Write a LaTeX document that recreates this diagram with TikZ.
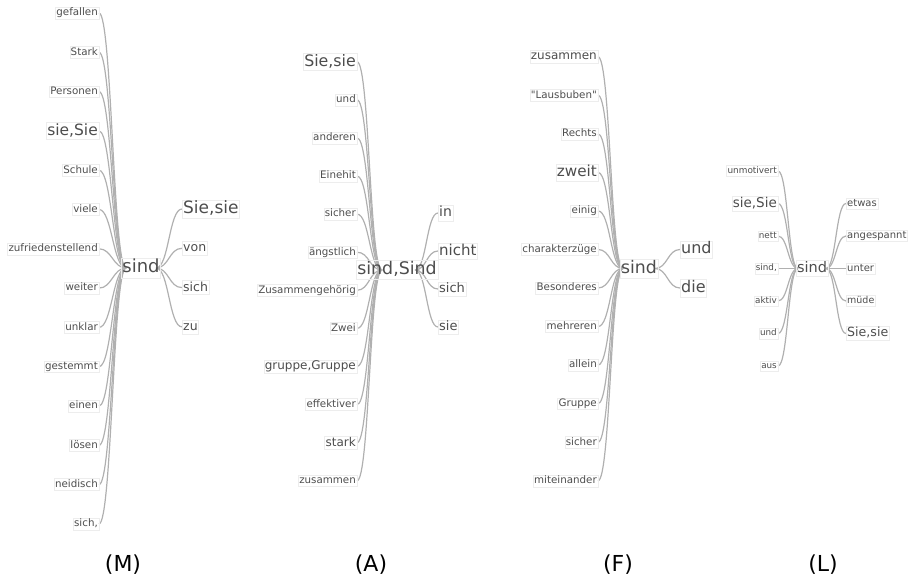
\documentclass[tikz,border=0pt]{standalone}
\usepackage{fontspec}
\setmainfont{DejaVu Sans}
\usetikzlibrary{backgrounds}
\definecolor{wordgray}{HTML}{4D4D4D}
\definecolor{linkgray}{HTML}{B0B0B0}
\definecolor{boxgray}{HTML}{EDEDED}
\newcommand{\fsz}[1]{\fontsize{#1}{#1}\selectfont}
\tikzset{
  word/.style={text=wordgray, draw=boxgray, line width=0.4pt, inner sep=1pt,
    execute at begin node=\vphantom{Ag}},
  lword/.style={word, anchor=east},
  rword/.style={word, anchor=west},
  hub/.style={word},
  link/.style={draw=linkgray, line width=1.2pt},
  tag/.style={text=black, font=\fsz{22}}
}
\begin{document}
\begin{tikzpicture}[x=1pt, y=-1pt]
\useasboundingbox (0,0) rectangle (908,579);

% (M)
\node[hub, font=\fsz{18}] (mc) at (141,268) {sind};
\coordinate (mL) at (126,268);
\coordinate (mR) at (156,268);
\foreach \w/\s [count=\i] in {gefallen/10.3, Stark/10.3, Personen/10.3, {sie,Sie}/15.5,
    Schule/10.3, viele/10.3, zufriedenstellend/10.3, weiter/10.3, unklar/10.3,
    gestemmt/10.3, einen/10.3, lösen/10.3, neidisch/10.3, {sich,}/10.3}
  \node[lword, font=\fsz{\s}] (ml\i) at (99,{13+39.3*(\i-1)}) {\w};
\foreach \w/\s [count=\i] in {{Sie,sie}/17, von/12.5, sich/12.5, zu/12.5}
  \node[rword, font=\fsz{\s}] (mr\i) at (182,{209+39.3*(\i-1)}) {\w};
\node[tag] (mtag) at (123,565) {(M)};

% (A)
\node[hub, font=\fsz{17.4}] (ac) at (397,270) {sind,Sind};
\coordinate (aL) at (382,270);
\coordinate (aR) at (415,270);
\foreach \w/\s [count=\i] in {{Sie,sie}/15.8, und/10.3, anderen/10.3, Einehit/10.3,
    sicher/10.3, ängstlich/10.3, Zusammengehörig/10.3, Zwei/10.3,
    {gruppe,Gruppe}/12, effektiver/10.3, stark/12, zusammen/10.3}
  \node[lword, font=\fsz{\s}] (al\i) at (357,{61.7+38.1*(\i-1)}) {\w};
\foreach \w/\s [count=\i] in {in/14, nicht/15, sich/13, sie/13}
  \node[rword, font=\fsz{\s}] (ar\i) at (438,{213+38*(\i-1)}) {\w};
\node[tag] (atag) at (371,565) {(A)};

% (F)
\node[hub, font=\fsz{17.3}] (fc) at (639,268.5) {sind};
\coordinate (fL) at (623,268.5);
\coordinate (fR) at (655,268.5);
\foreach \w/\s [count=\i] in {zusammen/12, \textquotedbl Lausbuben\textquotedbl/10.3,
    Rechts/10.3, zweit/15.2, einig/10.3, charakterzüge/10.3, Besonderes/10.3,
    mehreren/10.3, allein/10.3, Gruppe/10.3, sicher/10.3, miteinander/10.3}
  \node[lword, font=\fsz{\s}] (fl\i) at (598,{56.7+38.55*(\i-1)}) {\w};
\foreach \w/\s [count=\i] in {und/16, die/16}
  \node[rword, font=\fsz{\s}] (fr\i) at (680,{249.5+38.5*(\i-1)}) {\w};
\node[tag] (ftag) at (618,565) {(F)};

% (L)
\node[hub, font=\fsz{14.5}] (lc) at (812,268.5) {sind};
\coordinate (lL) at (798,268.5);
\coordinate (lR) at (826,268.5);
\foreach \w/\s [count=\i] in {unmotivert/8.9, {sie,Sie}/13.5, nett/8.8, {sind,}/8.8,
    aktiv/8.8, und/8.8, aus/8.8}
  \node[lword, font=\fsz{\s}] (ll\i) at (778,{171+32.5*(\i-1)}) {\w};
\foreach \w/\s [count=\i] in {etwas/10, angespannt/10, unter/10, müde/9.5, {Sie,sie}/12.6}
  \node[rword, font=\fsz{\s}] (lr\i) at (846,{203.5+32.5*(\i-1)}) {\w};
\node[tag] (ltag) at (823,565) {(L)};

\begin{scope}[on background layer]
  \foreach \i in {1,...,14}
    \draw[link] (ml\i.east) .. controls +(13,0) and +(-13,0) .. (mL);
  \foreach \i in {1,...,4}
    \draw[link] (mR) .. controls +(13,0) and +(-13,0) .. (mr\i.west);
  \foreach \i in {1,...,12}
    \draw[link] (al\i.east) .. controls +(12.5,0) and +(-12.5,0) .. (aL);
  \foreach \i in {1,...,4}
    \draw[link] (aR) .. controls +(11.5,0) and +(-11.5,0) .. (ar\i.west);
  \foreach \i in {1,...,12}
    \draw[link] (fl\i.east) .. controls +(12.5,0) and +(-12.5,0) .. (fL);
  \foreach \i in {1,2}
    \draw[link] (fR) .. controls +(12.5,0) and +(-12.5,0) .. (fr\i.west);
  \foreach \i in {1,...,7}
    \draw[link] (ll\i.east) .. controls +(10,0) and +(-10,0) .. (lL);
  \foreach \i in {1,...,5}
    \draw[link] (lR) .. controls +(10,0) and +(-10,0) .. (lr\i.west);
\end{scope}
\end{tikzpicture}
\end{document}
